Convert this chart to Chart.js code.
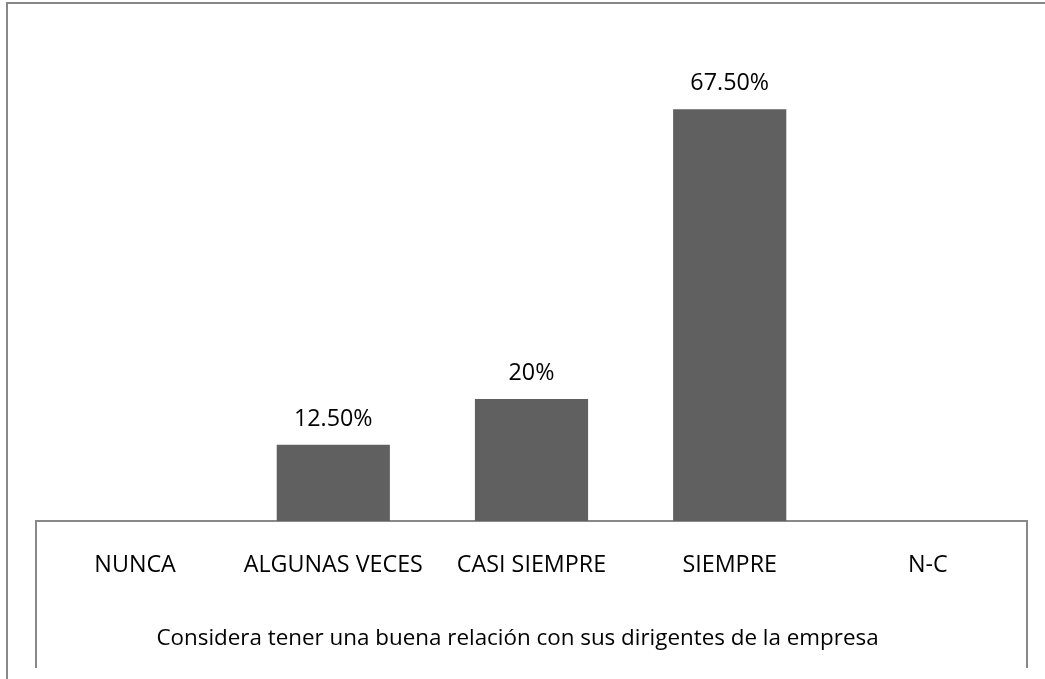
<!DOCTYPE html>
<html>
<head>
<meta charset="utf-8">
<script src="https://cdn.jsdelivr.net/npm/chart.js@4.4.1/dist/chart.umd.min.js"></script>
<style>
  html, body { margin: 0; padding: 0; background: #ffffff; }
  #wrap { position: relative; width: 1045px; height: 679px; }
</style>
</head>
<body>
<div id="wrap"><canvas id="c" width="1045" height="679"></canvas></div>
<script>
const categories = ['NUNCA', 'ALGUNAS VECES', 'CASI SIEMPRE', 'SIEMPRE', 'N-C'];
const values = [0, 12.5, 20, 67.5, 0];
const valueLabels = ['', '12.50%', '20%', '67.50%', ''];
const axisTitle = 'Considera tener una buena relación con sus dirigentes de la empresa';

const FONT = '"Open Sans", "DejaVu Sans", sans-serif';
const LINE = '#888888';

const framePlugin = {
  id: 'frame',
  beforeDraw(chart) {
    const ctx = chart.ctx;
    ctx.save();
    ctx.fillStyle = '#ffffff';
    ctx.fillRect(0, 0, chart.width, chart.height);
    ctx.strokeStyle = LINE;
    ctx.lineWidth = 2;
    ctx.beginPath();
    ctx.moveTo(7, 679);
    ctx.lineTo(7, 3);
    ctx.lineTo(1045, 3);
    ctx.stroke();
    const a = chart.chartArea;
    ctx.beginPath();
    ctx.moveTo(a.left, 668);
    ctx.lineTo(a.left, a.bottom);
    ctx.lineTo(a.right, a.bottom);
    ctx.lineTo(a.right, 668);
    ctx.stroke();
    ctx.restore();
  },
  afterDatasetsDraw(chart) {
    const ctx = chart.ctx;
    const meta = chart.getDatasetMeta(0);
    ctx.save();
    ctx.fillStyle = '#000000';
    ctx.font = '23.3px ' + FONT;
    ctx.textAlign = 'center';
    ctx.textBaseline = 'alphabetic';
    meta.data.forEach((bar, i) => {
      if (valueLabels[i]) ctx.fillText(valueLabels[i], bar.x, bar.y - 19);
    });
    ctx.font = '22.4px ' + FONT;
    ctx.fillText(axisTitle, (chart.chartArea.left + chart.chartArea.right) / 2 - 14, 645);
    ctx.restore();
  }
};

new Chart(document.getElementById('c'), {
  type: 'bar',
  data: {
    labels: categories,
    datasets: [{
      data: values,
      backgroundColor: '#606060',
      borderWidth: 0,
      categoryPercentage: 1.0,
      barPercentage: 0.571
    }]
  },
  options: {
    responsive: false,
    animation: false,
    layout: { padding: { left: 36, right: 18, top: 33, bottom: 0 } },
    plugins: { legend: { display: false }, tooltip: { enabled: false } },
    scales: {
      x: {
        grid: { display: false, drawTicks: false },
        border: { display: false },
        ticks: { color: '#000000', font: { family: FONT, size: 23.3 }, padding: 30, maxRotation: 0, autoSkip: false },
        afterFit(scale) { scale.height = 158; }
      },
      y: {
        display: false,
        min: 0,
        max: 80
      }
    }
  },
  plugins: [framePlugin]
});
</script>
</body>
</html>
